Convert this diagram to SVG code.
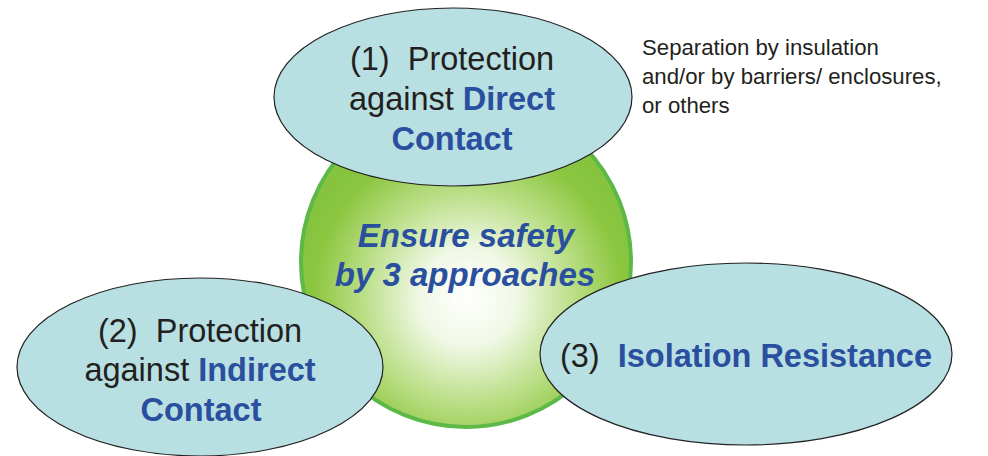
<svg xmlns="http://www.w3.org/2000/svg" width="988" height="456" viewBox="0 0 988 456">
  <defs>
    <radialGradient id="greenGrad" gradientUnits="userSpaceOnUse" cx="468" cy="298" r="172" fx="468" fy="298">
      <stop offset="0" stop-color="#ffffff"/>
      <stop offset="0.28" stop-color="#f1f8e6"/>
      <stop offset="0.62" stop-color="#b9de85"/>
      <stop offset="0.9" stop-color="#8cc63f"/>
      <stop offset="1" stop-color="#86c440"/>
    </radialGradient>
  </defs>
  <style>
    text { white-space: pre; }
    .oval { fill: #b8dfe2; stroke: #222222; stroke-width: 1.2; }
    .t { font-family: "Liberation Sans", Arial, sans-serif; font-size: 32.5px; fill: #231f20; text-anchor: middle; }
    .b { font-weight: bold; fill: #2a4f9e; }
    .center { font-family: "Liberation Sans", Arial, sans-serif; font-size: 33px; font-weight: bold; font-style: italic; fill: #2a4f9e; text-anchor: middle; }
    .note { font-family: "Liberation Sans", Arial, sans-serif; font-size: 22.2px; fill: #231f20; }
  </style>

  <g id="center">
    <circle cx="466" cy="262" r="165" fill="url(#greenGrad)" stroke="#5cb947" stroke-width="4"/>
    <text class="center" x="466" y="247">Ensure safety</text>
    <text class="center" x="465" y="286">by 3 approaches</text>
  </g>

  <g id="connectors"></g>

  <g id="node-direct">
    <ellipse class="oval" cx="453" cy="97" rx="179" ry="89"/>
    <text class="t" x="452" y="70" xml:space="preserve">(1)  Protection</text>
    <text class="t" x="452" y="110">against <tspan class="b">Direct</tspan></text>
    <text class="t b" x="452" y="150">Contact</text>
  </g>

  <g id="node-indirect">
    <ellipse class="oval" cx="200" cy="367" rx="183" ry="89"/>
    <text class="t" x="200" y="342" xml:space="preserve">(2)  Protection</text>
    <text class="t" x="200" y="381">against <tspan class="b">Indirect</tspan></text>
    <text class="t b" x="201" y="421">Contact</text>
  </g>

  <g id="node-isolation">
    <ellipse class="oval" cx="746" cy="354" rx="206" ry="91"/>
    <text class="t" x="746" y="367" xml:space="preserve">(3)  <tspan class="b">Isolation Resistance</tspan></text>
  </g>

  <g id="note">
    <text class="note" x="642" y="55">Separation by insulation</text>
    <text class="note" x="642" y="84">and/or by barriers/ enclosures,</text>
    <text class="note" x="642" y="113">or others</text>
  </g>
</svg>
